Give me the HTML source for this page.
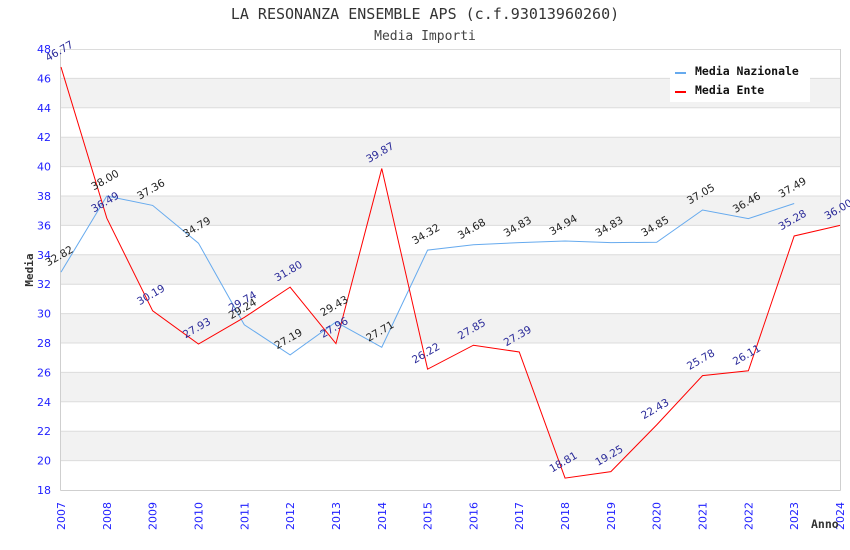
<!DOCTYPE html>
<html><head><meta charset="utf-8"><style>
html,body{margin:0;padding:0;background:#fff;}
svg{display:block;}
</style></head><body>
<svg width="850" height="550" viewBox="0 0 850 550" xmlns="http://www.w3.org/2000/svg">
<rect x="0" y="0" width="850" height="550" fill="#fff"/>
<text x="425" y="19" text-anchor="middle" font-family="'DejaVu Sans Mono','Liberation Mono',monospace" font-size="15" fill="#333">LA RESONANZA ENSEMBLE APS (c.f.93013960260)</text>
<text x="425" y="40" text-anchor="middle" font-family="'DejaVu Sans Mono','Liberation Mono',monospace" font-size="13" fill="#444">Media Importi</text>
<g fill="#f2f2f2">
<rect x="61" y="78.4" width="779" height="29.4"/>
<rect x="61" y="137.2" width="779" height="29.4"/>
<rect x="61" y="196" width="779" height="29.4"/>
<rect x="61" y="254.8" width="779" height="29.4"/>
<rect x="61" y="313.6" width="779" height="29.4"/>
<rect x="61" y="372.4" width="779" height="29.4"/>
<rect x="61" y="431.2" width="779" height="29.4"/>
</g>
<g stroke="#dcdcdc" stroke-width="1">
<line x1="61" x2="840" y1="49.5" y2="49.5"/>
<line x1="61" x2="840" y1="78.4" y2="78.4"/>
<line x1="61" x2="840" y1="107.8" y2="107.8"/>
<line x1="61" x2="840" y1="137.2" y2="137.2"/>
<line x1="61" x2="840" y1="166.6" y2="166.6"/>
<line x1="61" x2="840" y1="196" y2="196"/>
<line x1="61" x2="840" y1="225.4" y2="225.4"/>
<line x1="61" x2="840" y1="254.8" y2="254.8"/>
<line x1="61" x2="840" y1="284.2" y2="284.2"/>
<line x1="61" x2="840" y1="313.6" y2="313.6"/>
<line x1="61" x2="840" y1="343" y2="343"/>
<line x1="61" x2="840" y1="372.4" y2="372.4"/>
<line x1="61" x2="840" y1="401.8" y2="401.8"/>
<line x1="61" x2="840" y1="431.2" y2="431.2"/>
<line x1="61" x2="840" y1="460.6" y2="460.6"/>
</g>
<g stroke="#cfcfcf" stroke-width="1">
<line x1="60.5" x2="60.5" y1="49" y2="490.5"/>
<line x1="840.5" x2="840.5" y1="49" y2="490.5"/>
<line x1="60.5" x2="840.5" y1="490.5" y2="490.5"/>
</g>
<g font-family="'DejaVu Sans','Liberation Sans',sans-serif" font-size="11" fill="#1f1fff" text-anchor="end">
<text x="51" y="53">48</text>
<text x="51" y="82.4">46</text>
<text x="51" y="111.8">44</text>
<text x="51" y="141.2">42</text>
<text x="51" y="170.6">40</text>
<text x="51" y="200">38</text>
<text x="51" y="229.4">36</text>
<text x="51" y="258.8">34</text>
<text x="51" y="288.2">32</text>
<text x="51" y="317.6">30</text>
<text x="51" y="347">28</text>
<text x="51" y="376.4">26</text>
<text x="51" y="405.8">24</text>
<text x="51" y="435.2">22</text>
<text x="51" y="464.6">20</text>
<text x="51" y="494">18</text>
</g>
<g font-family="'DejaVu Sans','Liberation Sans',sans-serif" font-size="11" fill="#1f1fff" text-anchor="end">
<text transform="translate(65,502) rotate(-90)">2007</text>
<text transform="translate(110.8,502) rotate(-90)">2008</text>
<text transform="translate(156.6,502) rotate(-90)">2009</text>
<text transform="translate(202.5,502) rotate(-90)">2010</text>
<text transform="translate(248.3,502) rotate(-90)">2011</text>
<text transform="translate(294.1,502) rotate(-90)">2012</text>
<text transform="translate(339.9,502) rotate(-90)">2013</text>
<text transform="translate(385.8,502) rotate(-90)">2014</text>
<text transform="translate(431.6,502) rotate(-90)">2015</text>
<text transform="translate(477.4,502) rotate(-90)">2016</text>
<text transform="translate(523.2,502) rotate(-90)">2017</text>
<text transform="translate(569.1,502) rotate(-90)">2018</text>
<text transform="translate(614.9,502) rotate(-90)">2019</text>
<text transform="translate(660.7,502) rotate(-90)">2020</text>
<text transform="translate(706.5,502) rotate(-90)">2021</text>
<text transform="translate(752.4,502) rotate(-90)">2022</text>
<text transform="translate(798.2,502) rotate(-90)">2023</text>
<text transform="translate(844,502) rotate(-90)">2024</text>
</g>
<text transform="translate(33,270) rotate(-90)" text-anchor="middle" font-family="'DejaVu Sans Mono','Liberation Mono',monospace" font-size="11" font-weight="bold" fill="#333">Media</text>
<text x="811" y="528" font-family="'DejaVu Sans Mono','Liberation Mono',monospace" font-size="11.5" font-weight="bold" fill="#333">Anno</text>
<polyline fill="none" stroke="#66aaee" stroke-width="1" points="61,272.15 106.82,196 152.65,205.41 198.47,243.19 244.29,324.77 290.12,354.91 335.94,321.98 381.76,347.26 427.59,250.1 473.41,244.8 519.24,242.6 565.06,240.98 610.88,242.6 656.71,242.3 702.53,209.97 748.35,218.64 794.18,203.5"/>
<polyline fill="none" stroke="#ff0000" stroke-width="1" points="61,67.08 106.82,218.2 152.65,310.81 198.47,344.03 244.29,317.42 290.12,287.14 335.94,343.59 381.76,168.51 427.59,369.17 473.41,345.21 519.24,351.97 565.06,478.09 610.88,471.63 656.71,424.88 702.53,375.63 748.35,370.78 794.18,235.98 840,225.4"/>
<g font-family="'DejaVu Sans','Liberation Sans',sans-serif" font-size="10.5" fill="#222" text-anchor="middle">
<text transform="translate(61,259) rotate(-30)">32.82</text>
<text transform="translate(106.82,183) rotate(-30)">38.00</text>
<text transform="translate(152.65,192.4) rotate(-30)">37.36</text>
<text transform="translate(198.47,230.2) rotate(-30)">34.79</text>
<text transform="translate(244.29,311.8) rotate(-30)">29.24</text>
<text transform="translate(290.12,341.9) rotate(-30)">27.19</text>
<text transform="translate(335.94,309) rotate(-30)">29.43</text>
<text transform="translate(381.76,334.3) rotate(-30)">27.71</text>
<text transform="translate(427.59,237.1) rotate(-30)">34.32</text>
<text transform="translate(473.41,231.8) rotate(-30)">34.68</text>
<text transform="translate(519.24,229.6) rotate(-30)">34.83</text>
<text transform="translate(565.06,228) rotate(-30)">34.94</text>
<text transform="translate(610.88,229.6) rotate(-30)">34.83</text>
<text transform="translate(656.71,229.3) rotate(-30)">34.85</text>
<text transform="translate(702.53,197) rotate(-30)">37.05</text>
<text transform="translate(748.35,205.6) rotate(-30)">36.46</text>
<text transform="translate(794.18,190.5) rotate(-30)">37.49</text>
</g>
<g font-family="'DejaVu Sans','Liberation Sans',sans-serif" font-size="10.5" fill="#2a2a99" text-anchor="middle">
<text transform="translate(61,54.1) rotate(-30)">46.77</text>
<text transform="translate(106.82,205.2) rotate(-30)">36.49</text>
<text transform="translate(152.65,297.8) rotate(-30)">30.19</text>
<text transform="translate(198.47,331) rotate(-30)">27.93</text>
<text transform="translate(244.29,304.4) rotate(-30)">29.74</text>
<text transform="translate(290.12,274.1) rotate(-30)">31.80</text>
<text transform="translate(335.94,330.6) rotate(-30)">27.96</text>
<text transform="translate(381.76,155.5) rotate(-30)">39.87</text>
<text transform="translate(427.59,356.2) rotate(-30)">26.22</text>
<text transform="translate(473.41,332.2) rotate(-30)">27.85</text>
<text transform="translate(519.24,339) rotate(-30)">27.39</text>
<text transform="translate(565.06,465.1) rotate(-30)">18.81</text>
<text transform="translate(610.88,458.6) rotate(-30)">19.25</text>
<text transform="translate(656.71,411.9) rotate(-30)">22.43</text>
<text transform="translate(702.53,362.6) rotate(-30)">25.78</text>
<text transform="translate(748.35,357.8) rotate(-30)">26.11</text>
<text transform="translate(794.18,223) rotate(-30)">35.28</text>
<text transform="translate(840,212.4) rotate(-30)">36.00</text>
</g>
<rect x="670" y="60" width="140" height="42" fill="#fff"/>
<line x1="675" x2="686" y1="73" y2="73" stroke="#66aaee" stroke-width="2"/>
<line x1="675" x2="686" y1="92" y2="92" stroke="#ff0000" stroke-width="2"/>
<g font-family="'DejaVu Sans Mono','Liberation Mono',monospace" font-size="11.5" font-weight="bold" fill="#111">
<text x="695" y="75">Media Nazionale</text>
<text x="695" y="94">Media Ente</text>
</g>
</svg>
</body></html>
